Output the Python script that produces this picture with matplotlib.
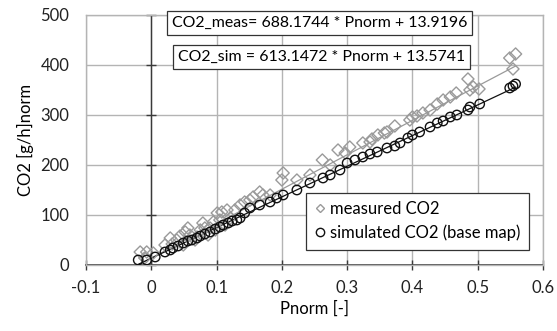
import numpy as np
import matplotlib
matplotlib.use("Agg")
import matplotlib.pyplot as plt
from matplotlib.lines import Line2D

plt.rcParams['font.family'] = ['Lato', 'DejaVu Sans']

# measured CO2 (gray diamonds)
meas_x = [-0.017, -0.007, 0.003, -0.010, 0.021, 0.029, 0.039, 0.032, 0.044, 0.049,
          0.056, 0.059, 0.052, 0.067, 0.070, 0.075, 0.079, 0.082, 0.087, 0.090,
          0.095, 0.101, 0.098, 0.105, 0.108, 0.116, 0.113, 0.121, 0.128, 0.136,
          0.143, 0.151, 0.156, 0.166, 0.171, 0.182, 0.202, 0.200, 0.223, 0.243,
          0.262, 0.274, 0.286, 0.297, 0.304, 0.324, 0.335, 0.338, 0.347, 0.357,
          0.361, 0.373, 0.396, 0.400, 0.407, 0.416, 0.427, 0.438, 0.447, 0.458,
          0.467, 0.485, 0.488, 0.493, 0.502, 0.549, 0.558, 0.554]
meas_y = [26, 26, 24, 14, 40, 54, 50, 42, 58, 40,
          74, 60, 66, 50, 56, 70, 84, 74, 60, 74,
          86, 104, 70, 90, 106, 110, 80, 94, 110, 120,
          126, 130, 136, 146, 140, 140, 184, 170, 170, 180,
          210, 200, 230, 224, 236, 244, 246, 252, 260, 264,
          266, 278, 290, 296, 298, 304, 310, 322, 330, 336,
          344, 372, 350, 356, 352, 414, 422, 392]

# simulated CO2 (base map), black circles
sim_x = [-0.020, -0.007, 0.006, 0.021, 0.029, 0.033, 0.041, 0.049, 0.056, 0.062,
         0.070, 0.075, 0.082, 0.090, 0.098, 0.105, 0.110, 0.118, 0.124, 0.131,
         0.136, 0.143, 0.151, 0.166, 0.182, 0.192, 0.202, 0.223, 0.243, 0.263,
         0.274, 0.289, 0.300, 0.312, 0.324, 0.335, 0.346, 0.361, 0.373, 0.381,
         0.393, 0.400, 0.411, 0.427, 0.438, 0.447, 0.458, 0.468, 0.485, 0.488,
         0.503, 0.549, 0.554, 0.558]
sim_y = [10, 10, 16, 26, 30, 34, 38, 44, 48, 50,
         54, 58, 62, 66, 72, 76, 80, 84, 88, 90,
         94, 104, 114, 120, 126, 134, 140, 150, 164, 174,
         180, 190, 204, 210, 216, 222, 226, 234, 238, 244,
         254, 260, 266, 276, 284, 288, 296, 300, 310, 316,
         322, 354, 358, 362]

# trend line coefficients from the equations shown
meas_a, meas_b = 688.1744, 13.9196
sim_a, sim_b = 613.1472, 13.5741

xticks = [-0.1, 0, 0.1, 0.2, 0.3, 0.4, 0.5, 0.6]
yticks = [0, 100, 200, 300, 400, 500]

GRAY = "#9a9a9a"
GRID = "#b4b4b4"
FS = 12

fig = plt.figure(figsize=(5.57, 3.31), dpi=100)
ax = fig.add_axes([0.1544, 0.1994, 0.8205, 0.7553])
ax.set_xlim(-0.1, 0.6)
ax.set_ylim(0, 500)
ax.set_xticks(xticks)
ax.set_yticks(yticks)
ax.set_xticklabels(["%g" % t for t in xticks])
ax.grid(True, color=GRID, lw=1.0)
ax.set_axisbelow(True)
for s in ax.spines.values():
    s.set_color(GRID)
    s.set_linewidth(1.0)
ax.tick_params(length=0, labelsize=FS, colors="#222222")
ax.tick_params(axis="x", pad=11)
ax.tick_params(axis="y", pad=12)

# axis lines through the origin with cross ticks (Excel style)
ax.axvline(0, color="#3a3a3a", lw=1.0, zorder=2)
ax.axhline(0, color="#3a3a3a", lw=1.2, zorder=2, clip_on=False)
ax.plot([0] * len(yticks), yticks, "_", color="#3a3a3a", ms=7, mew=1.0,
        clip_on=False, zorder=2)
ax.plot(xticks, [0] * len(xticks), "|", color="#3a3a3a", ms=7, mew=1.0,
        clip_on=False, zorder=2)

# trend lines
xm = np.array([min(meas_x), max(meas_x)])
xs = np.array([min(sim_x), max(sim_x)])
ax.plot(xm, meas_a * xm + meas_b, color=GRAY, lw=0.9, zorder=3)
ax.plot(xs, sim_a * xs + sim_b, color="#111111", lw=0.9, zorder=3)

ax.scatter(meas_x, meas_y, marker="D", s=38, facecolors="none",
           edgecolors=GRAY, linewidths=1.0, zorder=4)
ax.scatter(sim_x, sim_y, marker="o", s=46, facecolors="none",
           edgecolors="#111111", linewidths=1.0, zorder=5)

box = dict(boxstyle="square,pad=0.3", fc="white", ec="#333333", lw=0.9)
ax.text(0.2575, 484, "CO2_meas= %.4f * Pnorm + %.4f" % (meas_a, meas_b),
        ha="center", va="center", fontsize=11.4, bbox=box, zorder=6)
ax.text(0.2605, 416, "CO2_sim = %.4f * Pnorm + %.4f" % (sim_a, sim_b),
        ha="center", va="center", fontsize=11.4, bbox=box, zorder=6)

handles = [Line2D([], [], ls="none", marker="D", ms=4.5, mfc="none", mec=GRAY, mew=1.0),
           Line2D([], [], ls="none", marker="o", ms=6, mfc="none", mec="#111111", mew=1.0)]
leg = ax.legend(handles, ["measured CO2", "simulated CO2 (base map)"],
                loc="lower right", bbox_to_anchor=(0.988, 0.028), fontsize=FS,
                handlelength=0.6, handletextpad=0.35, borderpad=0.5,
                labelspacing=0.45, fancybox=False, framealpha=1,
                edgecolor="#333333")
leg.get_frame().set_linewidth(0.9)
leg.set_zorder(7)

ax.set_xlabel("Pnorm [-]", fontsize=FS, labelpad=3)
ax.set_ylabel("CO2 [g/h]norm", fontsize=FS, labelpad=5)

fig.savefig("out.png", dpi=100)
